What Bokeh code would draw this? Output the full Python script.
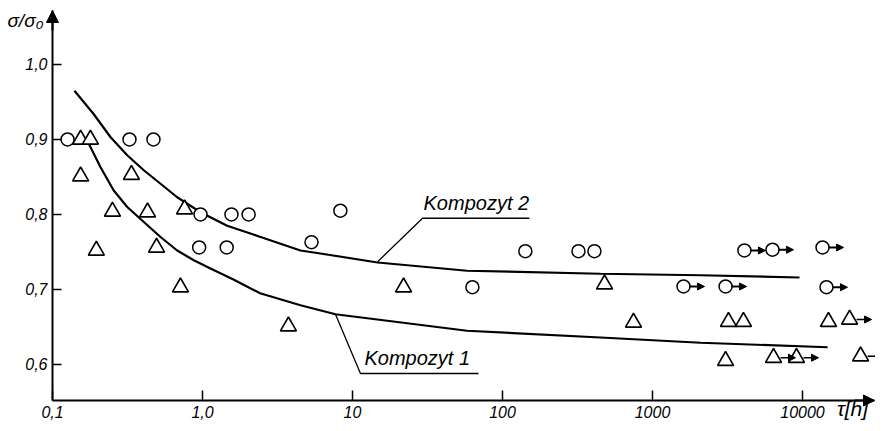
from bokeh.plotting import figure
from bokeh.models import Arrow, NormalHead, ColumnDataSource, Range1d
from bokeh.core.properties import value
from bokeh.embed import file_html
from bokeh.resources import INLINE

# ---------------- data ----------------
# Kompozyt 2 (circles)
k2_x = [0.126, 0.326, 0.471, 0.97, 1.56, 2.03, 0.95, 1.45, 5.33, 8.3, 63, 142, 321, 410]
k2_y = [0.90, 0.90, 0.90, 0.80, 0.80, 0.80, 0.756, 0.756, 0.763, 0.805, 0.703, 0.751, 0.751, 0.751]
# Kompozyt 2 run-outs (circles with arrow)
k2r_x = [4100, 6310, 13600, 1610, 3070, 14450]
k2r_y = [0.752, 0.753, 0.756, 0.704, 0.704, 0.703]

# Kompozyt 1 (triangles)
k1_x = [0.154, 0.179, 0.154, 0.336, 0.251, 0.43, 0.759, 0.196, 0.494, 0.713, 3.74, 21.9, 479, 747,
        3210, 4040, 14900, 3070]
k1_y = [0.90, 0.90, 0.851, 0.853, 0.804, 0.803, 0.807, 0.752, 0.756, 0.703, 0.651, 0.703, 0.707, 0.656,
        0.657, 0.657, 0.657, 0.605]
# Kompozyt 1 run-outs (triangles with arrow)
k1r_x = [20600, 6410, 9120, 24400]
k1r_y = [0.660, 0.609, 0.609, 0.611]

# fitted curves
c2_x = [0.140, 0.188, 0.244, 0.315, 0.406, 0.525, 0.678, 0.97, 1.46, 2.44, 4.5, 6.1, 14.7, 58, 450, 2090, 9550]
c2_y = [0.965, 0.934, 0.903, 0.879, 0.859, 0.841, 0.823, 0.803, 0.785, 0.770, 0.752, 0.748, 0.736, 0.725, 0.721, 0.719, 0.716]
c1_x = [0.170, 0.209, 0.256, 0.315, 0.396, 0.525, 0.678, 0.875, 1.13, 1.62, 2.42, 4.5, 7.7, 58, 450, 2090, 14700]
c1_y = [0.899, 0.863, 0.832, 0.810, 0.792, 0.770, 0.752, 0.739, 0.728, 0.713, 0.695, 0.679, 0.667, 0.645, 0.636, 0.629, 0.623]

# annotation leaders: [curve point, underline start, underline end]
lead2_x = [14.7, 29.3, 151]
lead2_y = [0.737, 0.795, 0.795]
lead1_x = [7.7, 11.3, 69.2]
lead1_y = [0.667, 0.588, 0.588]
label2 = "Kompozyt 2"
label1 = "Kompozyt 1"

x_ticks = [0.1, 1.0, 10.0, 100.0, 1000.0, 10000.0]
x_labels = ["0,1", "1,0", "10", "100", "1000", "10000"]
y_ticks = [0.6, 0.7, 0.8, 0.9, 1.0]
y_labels = ["0,6", "0,7", "0,8", "0,9", "1,0"]
y_title = "σ/σ₀"
x_title = "τ[h]"

# axes origin and ends (data units)
X0, Y0 = 0.1, 0.552
X_END, Y_END = 30200, 1.072

# view (whole canvas is the frame; 150 px per decade, 750 px per unit of y)
PX_DEC = 150.0
PX_Y = 750.0
X_MIN, X_MAX = 0.04501, 30670
Y_MIN, Y_MAX = 0.52133, 1.08533

FONT = "Liberation Sans"

def xoff(x, px):
    return x * 10 ** (px / PX_DEC)

def yoff(y, px):
    return y + px / PX_Y

p = figure(width=875, height=423, x_axis_type="log",
           x_range=Range1d(X_MIN, X_MAX), y_range=Range1d(Y_MIN, Y_MAX),
           x_axis_location=None, y_axis_location=None,
           output_backend="svg", toolbar_location=None,
           min_border=0)
p.outline_line_color = None
p.grid.visible = False

# ---- axes drawn with glyphs through the scales ----
p.line([X0, X0], [Y0, Y_END], line_width=2, line_color="black")
p.line([X0, X_END], [Y0, Y0], line_width=2, line_color="black")
p.add_layout(Arrow(end=NormalHead(size=12, fill_color="black", line_color="black"),
                   x_start=X0, y_start=yoff(Y_END, -20), x_end=X0, y_end=Y_END, line_width=2))
p.add_layout(Arrow(end=NormalHead(size=11, fill_color="black", line_color="black"),
                   x_start=xoff(X_END, -20), y_start=Y0, x_end=X_END, y_end=Y0, line_width=2))

# ticks (pointing inward)
p.segment(x0=[X0] * len(y_ticks), y0=y_ticks, x1=[xoff(X0, 9)] * len(y_ticks), y1=y_ticks,
          line_width=1.5, line_color="black")
p.segment(x0=x_ticks, y0=[Y0] * len(x_ticks), x1=x_ticks, y1=[yoff(Y0, 10)] * len(x_ticks),
          line_width=1.5, line_color="black")

# tick labels
p.text(x=[xoff(X0, -5)] * len(y_ticks), y=y_ticks, text=y_labels,
       text_font=value(FONT), text_font_style=value("italic"), text_font_size=value("16px"),
       text_align="right", text_baseline="middle", text_color="black")
p.text(x=x_ticks, y=[yoff(Y0, -6)] * len(x_ticks), text=x_labels,
       text_font=value(FONT), text_font_style=value("italic"), text_font_size=value("16px"),
       text_align="center", text_baseline="top", text_color="black")

# axis titles
p.text(x=[xoff(X0, -27)], y=[yoff(1.0, 44)], text=[y_title],
       text_font=value(FONT), text_font_style=value("italic"), text_font_size=value("19px"),
       text_align="center", text_baseline="middle", text_color="black")
p.text(x=[xoff(X0, 800)], y=[yoff(Y0, -8)], text=[x_title],
       text_font=value(FONT), text_font_style=value("italic"), text_font_size=value("21px"),
       text_align="center", text_baseline="middle", text_color="black")

# curves
p.line(c2_x, c2_y, line_width=2.2, line_color="black")
p.line(c1_x, c1_y, line_width=2.2, line_color="black")

# leaders
p.line(lead2_x, lead2_y, line_width=1.3, line_color="black")
p.line(lead1_x, lead1_y, line_width=1.3, line_color="black")

# markers
p.scatter(k2_x + k2r_x, k2_y + k2r_y, marker="circle", size=13, fill_color="white",
          line_color="black", line_width=1.5)
p.scatter(k1_x + k1r_x, k1_y + k1r_y, marker="triangle", size=16, fill_color="white",
          line_color="black", line_width=1.6)

# run-out arrows
def arrows(xs, ys, start_px, end_px):
    return ColumnDataSource(dict(
        x0=[xoff(x, start_px) for x in xs],
        x1=[xoff(x, end_px) for x in xs],
        y=ys))

s2 = arrows(k2r_x, k2r_y, 6, 21)
p.add_layout(Arrow(end=NormalHead(size=7, fill_color="black", line_color="black"),
                   x_start="x0", y_start="y", x_end="x1", y_end="y", source=s2, line_width=2))
s1 = arrows(k1r_x, k1r_y, 7, 22)
p.add_layout(Arrow(end=NormalHead(size=7, fill_color="black", line_color="black"),
                   x_start="x0", y_start="y", x_end="x1", y_end="y", source=s1, line_width=1.6))

# curve labels
p.text(x=[xoff(lead2_x[1], 1)], y=[yoff(lead2_y[1], 4)], text=[label2],
       text_font=value(FONT), text_font_style=value("italic"), text_font_size=value("20px"),
       text_align="left", text_baseline="bottom", text_color="black")
p.text(x=[xoff(lead1_x[1], 4)], y=[yoff(lead1_y[1], 4)], text=[label1],
       text_font=value(FONT), text_font_style=value("italic"), text_font_size=value("20px"),
       text_align="left", text_baseline="bottom", text_color="black")

open("out.html", "w").write(file_html(p, INLINE))
